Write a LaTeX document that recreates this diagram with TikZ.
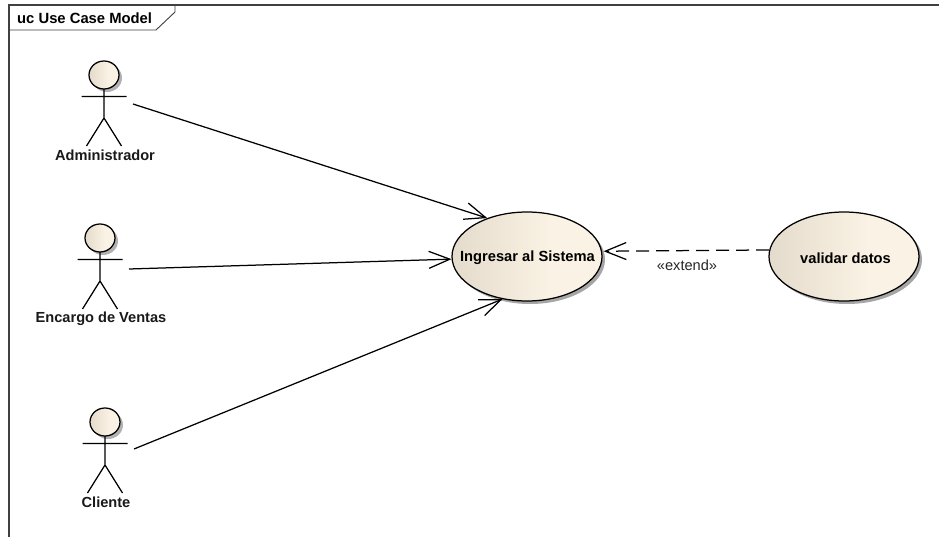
\documentclass[tikz,border=0pt]{standalone}
\usepackage{fontspec}
\setmainfont{Liberation Sans}
\usetikzlibrary{shapes.geometric,shadows,arrows.meta}
\definecolor{fillL}{HTML}{E4DBCC}
\definecolor{fillR}{HTML}{FAF2E4}
\pgfdeclarehorizontalshading{ucfill}{100bp}{
  color(0bp)=(fillL);
  color(25bp)=(fillL);
  color(58bp)=(fillR);
  color(100bp)=(fillR)}
\tikzset{
  x=1pt,y=-1pt,
  line/.style={draw=black,line width=1.25pt},
  frameline/.style={draw=black!75,line width=1.25pt},
  usecase/.style={ellipse,line,shading=ucfill,
    minimum width=150pt,minimum height=89pt,inner sep=0pt,
    drop shadow={shadow xshift=3pt,shadow yshift=-3pt,fill=black,opacity=.35}},
  uclabel/.style={inner sep=0pt,font=\fontsize{14.7}{16}\selectfont\bfseries},
  head/.style={ellipse,line,shading=ucfill,
    minimum width=30pt,minimum height=28pt,inner sep=0pt,
    drop shadow={shadow xshift=3pt,shadow yshift=-3pt,fill=black,opacity=.3}},
  actorlabel/.style={font=\fontsize{14.6}{16}\selectfont\bfseries,inner sep=0pt,text=black!90},
  assoc/.style={line,-{Straight Barb[length=21pt,width=17pt,line width=1.25pt]}},
  ext/.style={line,dash pattern=on 13pt off 7pt,-{Straight Barb[length=21pt,width=17pt,line width=1.25pt]},shorten >=1.5pt},
}
% #1 name, #2 x, #3 y of head centre, #4 label, #5 label y
\newcommand{\umlactor}[5]{%
  \node[head] (#1) at (#2,#3) {};
  \coordinate (#1-neck) at (#2,#3+14);
  \coordinate (#1-hip) at (#2,#3+43);
  \coordinate (#1-l) at (#2-22.5,#3+21.5);
  \coordinate (#1-r) at (#2+22.5,#3+21.5);
  \coordinate (#1-fl) at (#2-17.5,#3+71);
  \coordinate (#1-fr) at (#2+17.5,#3+71);
  \draw[line] (#1-neck) -- (#1-hip) (#1-l) -- (#1-r) (#1-fl) -- (#1-hip) -- (#1-fr);
  \node[actorlabel] (#1-label) at (#2+1,#5) {#4};
}
\begin{document}
\begin{tikzpicture}
\useasboundingbox (0,0) rectangle (939,537);
\fill[white] (0,0) rectangle (939,537);
% frame
\coordinate (fTL) at (9,5);
\coordinate (fTR) at (939,5);
\coordinate (fBL) at (9,537);
\coordinate (tabA) at (175,5);
\coordinate (tabB) at (175,12);
\coordinate (tabC) at (156,30);
\coordinate (tabD) at (9,30);
\draw[frameline] (fBL) -- (fTL) -- (fTR);
\draw[frameline,line width=.9pt] (tabA) -- (tabB) -- (tabC) -- (tabD);
\node[anchor=west,inner sep=0pt,font=\fontsize{14.8}{16}\selectfont\bfseries] (title) at (17,18) {uc Use Case Model};
% actors
\umlactor{admin}{104}{75}{Administrador}{155}
\umlactor{enc}{100}{238}{Encargo de Ventas}{319}
\umlactor{cli}{105}{422}{Cliente}{502}
% use cases
\node[usecase] (ing) at (527,256.5) {};
\node[usecase] (val) at (844,256.5) {};
\node[uclabel] (inglabel) at (527.5,258) {Ingresar al Sistema};
\node[uclabel] (vallabel) at (845.5,258) {validar datos};
% connector ends
\coordinate (adminOut) at (133,104);
\coordinate (encOut) at (129,269);
\coordinate (cliOut) at (134,449);
\draw[assoc] (adminOut) -- (ing.136);
\draw[assoc] (encOut) -- (ing.182);
\draw[assoc] (cliOut) -- (ing.240);
\draw[ext] (val.175.8) -- (ing.4.2);
\node[inner sep=0pt,font=\fontsize{14.6}{16}\selectfont,text=black!85] (extlabel) at (687,265) {«extend»};
\end{tikzpicture}
\end{document}
